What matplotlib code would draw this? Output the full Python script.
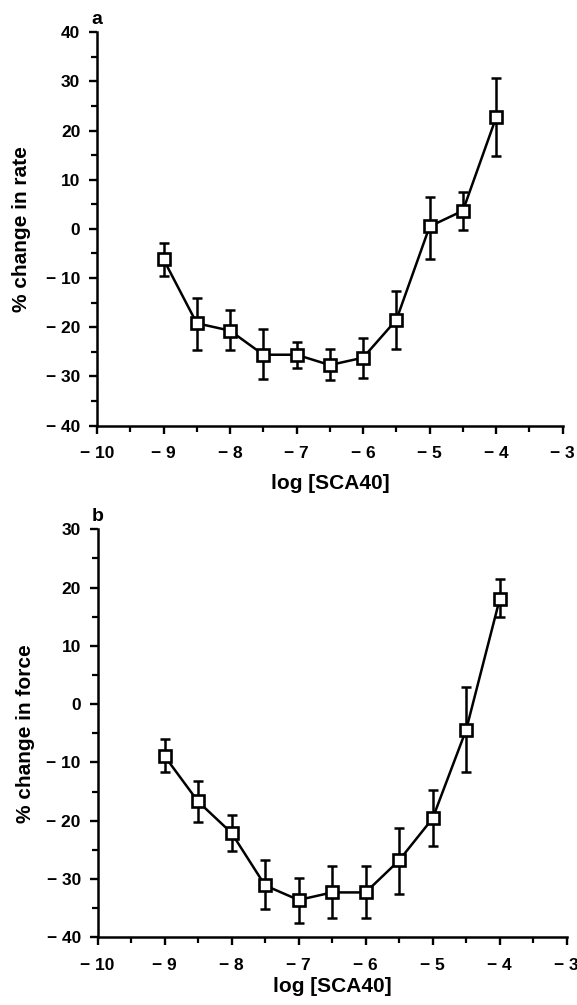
import matplotlib
matplotlib.use("Agg")
import matplotlib.pyplot as plt
from matplotlib.ticker import MultipleLocator, FuncFormatter

plt.rcParams['font.family'] = ['Liberation Sans', 'DejaVu Sans']

log_conc = [-9, -8.5, -8, -7.5, -7, -6.5, -6, -5.5, -5, -4.5, -4]

rate_mean = [-6.2, -19.2, -20.7, -25.6, -25.6, -27.7, -26.2, -18.5, 0.5, 3.7, 22.7]
rate_upper = [-2.9, -14.0, -16.5, -20.3, -23.0, -24.4, -22.2, -12.6, 6.4, 7.5, 30.8]
rate_lower = [-9.5, -24.6, -24.6, -30.5, -28.2, -30.7, -30.4, -24.5, -6.2, -0.2, 14.8]

force_mean = [-8.9, -16.7, -22.1, -31.1, -33.6, -32.3, -32.3, -26.8, -19.6, -4.4, 18.0]
force_upper = [-6.0, -13.1, -19.1, -26.8, -29.9, -27.8, -27.8, -21.3, -14.8, 3.0, 21.5]
force_lower = [-11.6, -20.3, -25.2, -35.2, -37.6, -36.7, -36.7, -32.5, -24.4, -11.7, 14.9]

W, H = 577, 1005
fig = plt.figure(figsize=(W / 100, H / 100), dpi=100)


def fmt(v, pos):
    v = int(round(v))
    return '\u2212 %d' % abs(v) if v < 0 else '%d' % v


def panel(rect, mean, upper, lower, ylim, ylabel, letter, xlabelpad, ylab_x):
    ax = fig.add_axes(rect)
    yerr = [[m - l for m, l in zip(mean, lower)], [u - m for m, u in zip(mean, upper)]]
    ax.errorbar(log_conc, mean, yerr=yerr, fmt='none', ecolor='black',
                elinewidth=1.8, capsize=3.6, capthick=1.8, zorder=2)
    ax.plot(log_conc, mean, color='black', lw=1.8, marker='s', markersize=8.2,
            markerfacecolor='white', markeredgecolor='black', markeredgewidth=1.9,
            zorder=3)
    ax.set_xlim(-10, -3)
    ax.set_ylim(*ylim)
    ax.xaxis.set_major_locator(MultipleLocator(1))
    ax.xaxis.set_minor_locator(MultipleLocator(0.5))
    ax.yaxis.set_major_locator(MultipleLocator(10))
    ax.yaxis.set_minor_locator(MultipleLocator(5))
    ax.xaxis.set_major_formatter(FuncFormatter(fmt))
    ax.yaxis.set_major_formatter(FuncFormatter(fmt))
    for s in ['top', 'right']:
        ax.spines[s].set_visible(False)
    for s in ['left', 'bottom']:
        ax.spines[s].set_linewidth(1.8)
    ax.tick_params(which='major', direction='out', length=6, width=1.7,
                   labelsize=12.5)
    ax.tick_params(axis='x', which='major', pad=9)
    ax.tick_params(axis='y', which='major', pad=6)
    ax.tick_params(which='minor', direction='out', length=4, width=1.6)
    for lab in ax.get_xticklabels() + ax.get_yticklabels():
        lab.set_fontweight('bold')
    ax.set_xlabel('log [SCA40]', fontsize=15, fontweight='bold', labelpad=xlabelpad)
    ax.set_ylabel(ylabel, fontsize=15, fontweight='bold')
    ax.yaxis.set_label_coords(ylab_x, 0.5)
    ax.text(0.0, 1.01, letter, transform=ax.transAxes, fontsize=14,
            fontweight='bold', ha='center', va='bottom')
    return ax


panel([97 / W, 1 - 425.5 / H, (562.7 - 97) / W, (425.5 - 32.3) / H],
      rate_mean, rate_upper, rate_lower, (-40, 40), '% change in rate', 'a', 9,
      (31 - 97) / 465.7)
panel([97.5 / W, 1 - 937.3 / H, (566.7 - 97.5) / W, (937.3 - 529.3) / H],
      force_mean, force_upper, force_lower, (-40, 30), '% change in force', 'b', 3,
      (35 - 97.5) / 469.2)

fig.savefig('out.png', dpi=100)
